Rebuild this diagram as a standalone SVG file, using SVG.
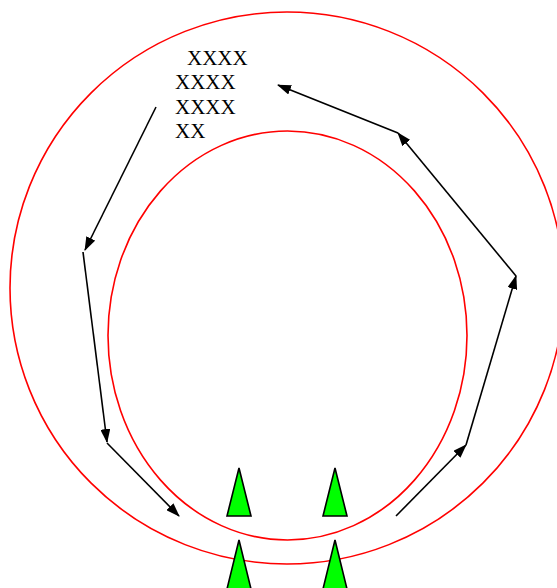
<svg xmlns="http://www.w3.org/2000/svg" width="557" height="588" viewBox="0 0 557 588">
<style>
.ring{fill:none;stroke:#ff0000;stroke-width:1.6}
.c{fill:none;stroke:#000;stroke-width:1.6;marker-end:url(#ah)}
.tri{fill:#00ff00;stroke:#000;stroke-width:1.6;stroke-linejoin:miter}
.t{font-family:"Liberation Serif",serif;font-size:21px;fill:#000}
</style>
<defs>
<marker id="ah" viewBox="0 0 14 10" refX="13" refY="5" markerWidth="14" markerHeight="10" markerUnits="userSpaceOnUse" orient="auto">
<path d="M0,0 L14,5 L0,10 Z" fill="#000"/>
</marker>
</defs>
<rect width="557" height="588" fill="#fff"/>
<g id="outer"><ellipse class="ring" cx="287" cy="288" rx="277" ry="276"/></g>
<g id="inner"><ellipse class="ring" cx="287.5" cy="335.5" rx="179.5" ry="204.5"/></g>
<g id="label">
<text class="t" x="187" y="65">XXXX</text>
<text class="t" x="175" y="89">XXXX</text>
<text class="t" x="175" y="114">XXXX</text>
<text class="t" x="175" y="138">XX</text>
</g>
<g id="tri1"><polygon class="tri" points="239,468 251,516 227,516"/></g>
<g id="tri2"><polygon class="tri" points="335,468 347,516 323,516"/></g>
<g id="tri3"><polygon class="tri" points="239,540 251,589 227,589"/></g>
<g id="tri4"><polygon class="tri" points="335,540 347,589 323,589"/></g>
<g id="connectors">
<line class="c" x1="156" y1="107" x2="85" y2="250"/>
<line class="c" x1="83" y1="252" x2="107" y2="442"/>
<line class="c" x1="107" y1="443" x2="179" y2="516"/>
<line class="c" x1="396" y1="516" x2="466" y2="445"/>
<line class="c" x1="466" y1="445" x2="516" y2="276"/>
<line class="c" x1="516" y1="276" x2="398" y2="133"/>
<line class="c" x1="398" y1="133" x2="278" y2="85"/>
</g>
</svg>
